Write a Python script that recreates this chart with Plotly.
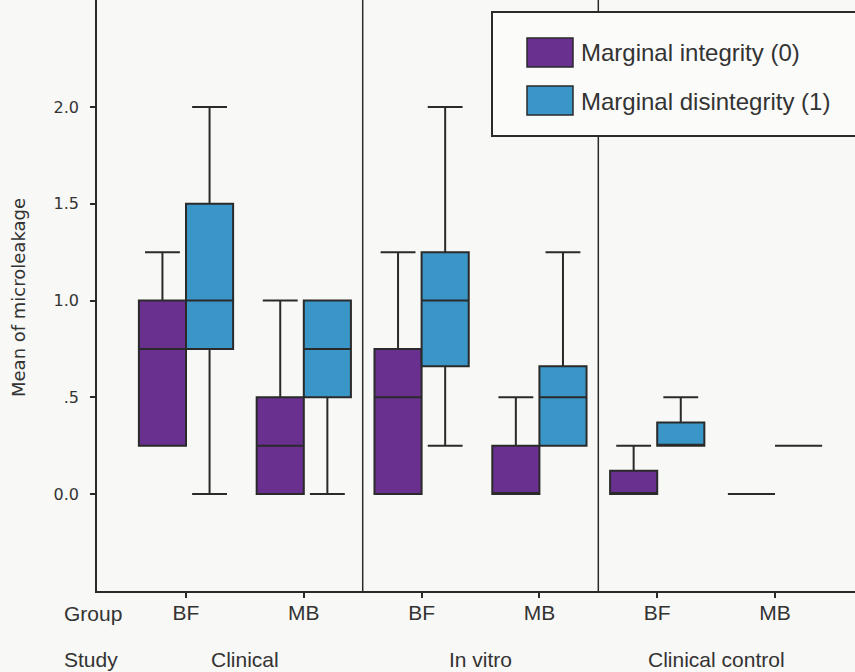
import plotly.graph_objects as go

# ---- data ----
group_labels = ["BF", "MB", "BF", "MB", "BF", "MB"]
study_labels = ["Clinical", "In vitro", "Clinical control"]
series_names = ["Marginal integrity (0)", "Marginal disintegrity (1)"]

# Marginal integrity (0)
q1_0 = [0.25, 0.0, 0.0, 0.0, 0.0, 0.0]
med_0 = [0.75, 0.25, 0.5, 0.0, 0.0, 0.0]
q3_0 = [1.0, 0.5, 0.75, 0.25, 0.12, 0.0]
lo_0 = [0.25, 0.0, 0.0, 0.0, 0.0, 0.0]
hi_0 = [1.25, 1.0, 1.25, 0.5, 0.25, 0.0]

# Marginal disintegrity (1)
q1_1 = [0.75, 0.5, 0.66, 0.25, 0.25, 0.25]
med_1 = [1.0, 0.75, 1.0, 0.5, 0.25, 0.25]
q3_1 = [1.5, 1.0, 1.25, 0.66, 0.37, 0.25]
lo_1 = [0.0, 0.0, 0.25, 0.25, 0.25, 0.25]
hi_1 = [2.0, 1.0, 2.0, 1.25, 0.5, 0.25]

y_tickvals = [0.0, 0.5, 1.0, 1.5, 2.0]
y_ticktext = ["0.0", ".5", "1.0", "1.5", "2.0"]

PURPLE = "#6a3090"
BLUE = "#3b96c8"
INK = "#2a2a2a"
BG = "#f8f8f6"

centers = list(range(1, len(group_labels) + 1))
off = 0.2
bw = 0.4

fig = go.Figure()
for name, col, q1, med, q3, lo, hi, sgn in [
    (series_names[0], PURPLE, q1_0, med_0, q3_0, lo_0, hi_0, -1),
    (series_names[1], BLUE, q1_1, med_1, q3_1, lo_1, hi_1, 1),
]:
    fig.add_trace(go.Box(
        name=name,
        x=[c + sgn * off for c in centers],
        q1=q1, median=med, q3=q3, lowerfence=lo, upperfence=hi,
        width=bw, whiskerwidth=0.74,
        fillcolor=col,
        line=dict(color=INK, width=2),
        showlegend=False, hoverinfo="skip", boxpoints=False,
    ))

W, H = 855, 672
ml, mr, mt, mb = 97, 0, 0, 81
pw = W - ml - mr
ph = H - mt - mb

def px2paper_x(px):
    return (px - ml) / pw

def px2paper_y(py):
    return (H - mb - py) / ph

shapes = []
# study dividers
for xd in [2.5, 4.5]:
    shapes.append(dict(type="line", xref="x", yref="paper", x0=xd, x1=xd, y0=0, y1=1,
                       line=dict(color=INK, width=1.5), layer="above"))
# legend box
shapes.append(dict(type="rect", xref="paper", yref="paper",
                   x0=px2paper_x(492), x1=px2paper_x(870),
                   y0=px2paper_y(136), y1=px2paper_y(12),
                   fillcolor="#fbfbfa", line=dict(color=INK, width=2), layer="above"))
sq = [(38, 67, PURPLE), (86, 115, BLUE)]
for (t, b, col) in sq:
    shapes.append(dict(type="rect", xref="paper", yref="paper",
                       x0=px2paper_x(527), x1=px2paper_x(573),
                       y0=px2paper_y(b), y1=px2paper_y(t),
                       fillcolor=col, line=dict(color=INK, width=1.5), layer="above"))

annotations = []
for name, yc in zip(series_names, [52, 101]):
    annotations.append(dict(text=name, xref="paper", yref="paper",
                            x=px2paper_x(579), y=px2paper_y(yc), xanchor="left", yanchor="middle",
                            showarrow=False, font=dict(family="Liberation Sans", size=24, color="#333")))
annotations.append(dict(text="Group", xref="paper", yref="paper",
                        x=px2paper_x(62), y=px2paper_y(613), xanchor="left", yanchor="middle",
                        showarrow=False, font=dict(family="Liberation Sans", size=21, color="#333")))
annotations.append(dict(text="Study", xref="paper", yref="paper",
                        x=px2paper_x(62), y=px2paper_y(659), xanchor="left", yanchor="middle",
                        showarrow=False, font=dict(family="Liberation Sans", size=21, color="#333")))
for i, s in enumerate(study_labels):
    annotations.append(dict(text=s, xref="x", yref="paper",
                            x=2 * i + 1.5, y=px2paper_y(659), xanchor="center", yanchor="middle",
                            showarrow=False, font=dict(family="Liberation Sans", size=21, color="#333")))
annotations.append(dict(text="Mean of microleakage", xref="paper", yref="paper",
                        x=px2paper_x(18), y=px2paper_y(298), xanchor="center", yanchor="middle",
                        textangle=-90, showarrow=False,
                        font=dict(family="DejaVu Sans", size=18, color="#333")))

fig.update_layout(
    width=W, height=H,
    margin=dict(l=ml, r=mr, t=mt, b=mb, pad=0),
    paper_bgcolor=BG, plot_bgcolor=BG,
    boxmode="overlay",
    shapes=shapes, annotations=annotations,
    xaxis=dict(range=[0.2445, 6.679], tickvals=centers, ticktext=group_labels,
               showline=True, linecolor=INK, linewidth=2, ticks="outside", ticklen=5,
               tickcolor=INK, tickwidth=1.5, showgrid=False, zeroline=False,
               ticklabelstandoff=-3,
               tickfont=dict(family="Liberation Sans", size=21, color="#333")),
    yaxis=dict(range=[-0.501, 2.553], tickvals=y_tickvals, ticktext=y_ticktext,
               showline=True, linecolor=INK, linewidth=1.5, ticks="outside", ticklen=5,
               tickcolor=INK, tickwidth=1.5, showgrid=False, zeroline=False,
               ticklabelstandoff=8,
               tickfont=dict(family="DejaVu Sans", size=16, color="#333")),
)

fig.write_html("out.html", config={"displayModeBar": False},
               post_script="document.body.style.margin='0';document.body.style.overflow='hidden';")
